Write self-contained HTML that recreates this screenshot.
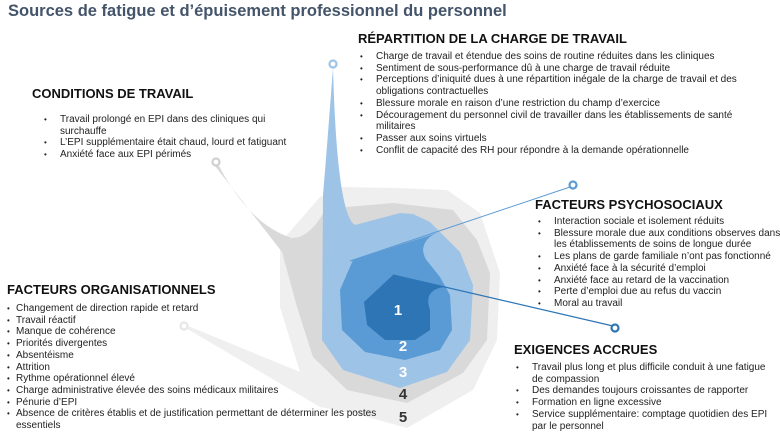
<!DOCTYPE html>
<html><head><meta charset="utf-8"><style>
body{margin:0;width:780px;height:437px;overflow:hidden;background:#fff;font-family:"Liberation Sans",sans-serif;position:relative;color:#111}
.t{position:absolute;left:8px;top:2px;font-size:16.5px;font-weight:bold;color:#44546a;white-space:nowrap}
h3{position:absolute;margin:0;font-size:13px;font-weight:bold;white-space:nowrap;color:#111}
ul{position:absolute;margin:0;padding:0;list-style:none;font-size:10px;line-height:11.7px;color:#222}
li{position:relative;white-space:nowrap}
li:before{content:"•";position:absolute;font-size:8px}
.a li{padding-left:17px}.a li:before{left:1px}
.b li{padding-left:9px}.b li:before{left:0}
.n{position:absolute;font-weight:bold;font-size:15px;transform:translateX(-50%)}
</style></head><body>
<svg width="780" height="437" style="position:absolute;left:0;top:0">
<polygon fill="#efefef" points="280,243 320,197 343,187 397,188 447,190 480,213 500,273 497,340 473,390 407,428 353,413 320,407 184,327 188,326 300,372 280,307"/>
<path fill="#d9d9d9" d="M215,166 L282,252 L297,307 L313,357 L347,390 L407,403 L463,373 L487,340 L490,273 L477,240 L453,210 L393,203 L347,207 L325,210 Q310,238 292,238 Q250,225 219,166 Z"/>
<path fill="#9dc3e6" d="M333,68 Q326,160 323,195 L322,340 L343,370 L400,388 L447,372 L470,340 L473,285 L460,252 L430,222 L413,214 L400,213 L355,225 Q337,215 333,68 Z"/>
<path fill="#5b9bd5" d="M353,260 L437,233 Q424,238 423,250 Q424,258 428,262 L440,277 L450,295 L452,330 L440,350 L405,360 L365,352 L342,330 L340,290 Z"/>
<path fill="#2e75b6" d="M393,275 L445,287 Q433,288 429,296 Q427,302 430,310 L430,330 L415,340 L385,340 L367,325 L364,302 Z"/>
<line x1="570" y1="187" x2="350" y2="261" stroke="#5b9bd5" stroke-width="1"/>
<line x1="393" y1="275" x2="613" y2="326" stroke="#2e75b6" stroke-width="1.2"/>
<circle cx="333" cy="64" r="3.5" fill="#fff" stroke="#9dc3e6" stroke-width="2.2"/>
<circle cx="573" cy="185" r="3.5" fill="#fff" stroke="#5b9bd5" stroke-width="2.2"/>
<circle cx="615" cy="328" r="3.5" fill="#fff" stroke="#2e75b6" stroke-width="2.2"/>
<circle cx="216" cy="162" r="3.5" fill="#fff" stroke="#d0d0d0" stroke-width="2.2"/>
<circle cx="184" cy="326" r="3.5" fill="#fff" stroke="#e6e6e6" stroke-width="2.2"/>
</svg>
<div class="t">Sources de fatigue et d’épuisement professionnel du personnel</div>
<div class="n" style="left:398px;top:302px;color:#fff">1</div>
<div class="n" style="left:403px;top:338px;color:#fff">2</div>
<div class="n" style="left:403px;top:364px;color:#fff">3</div>
<div class="n" style="left:403px;top:386px;color:#333">4</div>
<div class="n" style="left:403px;top:409px;color:#333">5</div>

<h3 style="left:32px;top:86px">CONDITIONS DE TRAVAIL</h3>
<ul class="a" style="left:43px;top:114px"><li>Travail prolongé en EPI dans des cliniques qui<br>surchauffe</li><li>L’EPI supplémentaire était chaud, lourd et fatiguant</li><li>Anxiété face aux EPI périmés</li></ul>

<h3 style="left:358px;top:31px">RÉPARTITION DE LA CHARGE DE TRAVAIL</h3>
<ul class="a" style="left:359px;top:51px"><li>Charge de travail et étendue des soins de routine réduites dans les cliniques</li><li>Sentiment de sous-performance dû à une charge de travail réduite</li><li>Perceptions d’iniquité dues à une répartition inégale de la charge de travail et des<br>obligations contractuelles</li><li>Blessure morale en raison d’une restriction du champ d’exercice</li><li>Découragement du personnel civil de travailler dans les établissements de santé<br>militaires</li><li>Passer aux soins virtuels</li><li>Conflit de capacité des RH pour répondre à la demande opérationnelle</li></ul>

<h3 style="left:535px;top:197px">FACTEURS PSYCHOSOCIAUX</h3>
<ul class="a" style="left:537px;top:216px"><li>Interaction sociale et isolement réduits</li><li>Blessure morale due aux conditions observes dans<br>les établissements de soins de longue durée</li><li>Les plans de garde familiale n’ont pas fonctionné</li><li>Anxiété face à la sécurité d’emploi</li><li>Anxiété face au retard de la vaccination</li><li>Perte d’emploi due au refus du vaccin</li><li>Moral au travail</li></ul>

<h3 style="left:514px;top:342px">EXIGENCES ACCRUES</h3>
<ul class="a" style="left:515px;top:362px"><li>Travail plus long et plus difficile conduit à une fatigue<br>de compassion</li><li>Des demandes toujours croissantes de rapporter</li><li>Formation en ligne excessive</li><li>Service supplémentaire: comptage quotidien des EPI<br>par le personnel</li></ul>

<h3 style="left:7px;top:282px">FACTEURS ORGANISATIONNELS</h3>
<ul class="b" style="left:7px;top:303px"><li>Changement de direction rapide et retard</li><li>Travail réactif</li><li>Manque de cohérence</li><li>Priorités divergentes</li><li>Absentéisme</li><li>Attrition</li><li>Rythme opérationnel élevé</li><li>Charge administrative élevée des soins médicaux militaires</li><li>Pénurie d’EPI</li><li>Absence de critères établis et de justification permettant de déterminer les postes<br>essentiels</li></ul>
</body></html>
